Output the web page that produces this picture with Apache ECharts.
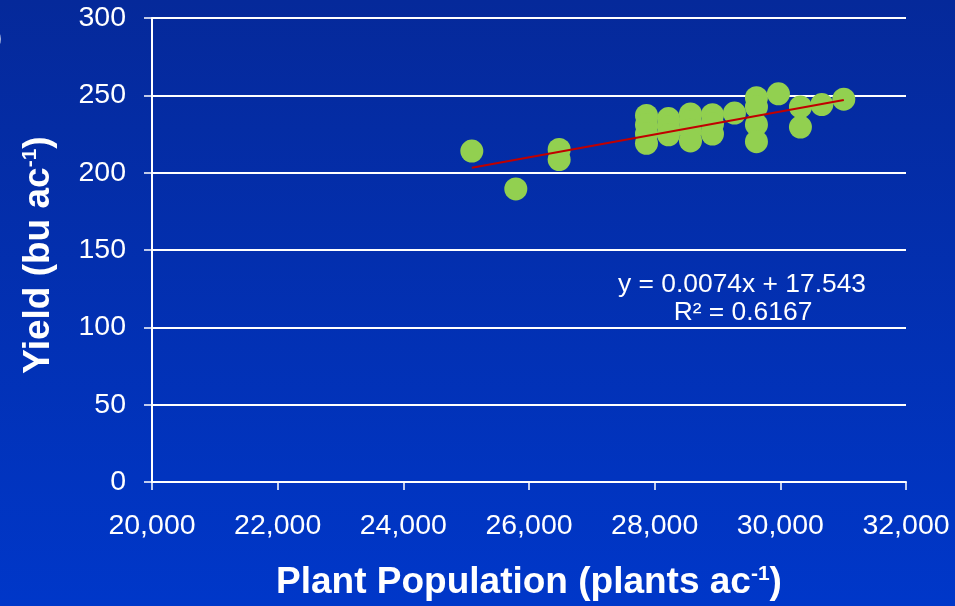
<!DOCTYPE html>
<html>
<head>
<meta charset="utf-8">
<script src="https://cdn.jsdelivr.net/npm/echarts@6/dist/echarts.min.js"></script>
<style>
html,body{margin:0;padding:0;width:955px;height:606px;overflow:hidden;}
#chart{width:955px;height:606px;}
</style>
</head>
<body>
<div id="chart"></div>
<script>
// Data
var popX = [25090, 25790, 26480, 26480,
            27870, 27870, 27870, 27870,
            28220, 28220, 28220,
            28570, 28570, 28570, 28570,
            28920, 28920, 28920,
            29270,
            29620, 29620, 29620, 29620,
            29970,
            30320, 30320,
            30660,
            31010];
var yieldY = [214, 189.5, 215, 208.5,
              237, 231, 225, 219,
              235, 229.5, 224.5,
              238, 233, 227.5, 220.5,
              237.5, 231.5, 225,
              238.5,
              248.5, 242.5, 231, 220,
              251,
              242.5, 229.5,
              244,
              247.5];
var trendX = [25090, 31010];
var trendY = [203.2, 247.0];
var xTicks = [20000, 22000, 24000, 26000, 28000, 30000, 32000];
var yTicks = [0, 50, 100, 150, 200, 250, 300];
var eqLine1 = 'y = 0.0074x + 17.543';
var eqLine2 = 'R\u00b2 = 0.6167';

var pts = popX.map(function (x, i) { return [x, yieldY[i]]; });
var trend = trendX.map(function (x, i) { return [x, trendY[i]]; });

var chart = echarts.init(document.getElementById('chart'), null, {renderer: 'canvas'});
var font = '"Liberation Sans", Arial, sans-serif';
var titleRich = {
  b: {fontFamily: font, fontSize: 37, fontWeight: 'bold', color: '#fff', lineHeight: 37},
  s: {fontFamily: font, fontSize: 21, fontWeight: 'bold', color: '#fff', lineHeight: 37, verticalAlign: 'top', padding: [0, 0, 15, 0]}
};
chart.setOption({
  backgroundColor: {
    type: 'linear', x: 0, y: 0, x2: 0, y2: 1,
    colorStops: [{offset: 0, color: '#05299a'}, {offset: 1, color: '#0037c9'}]
  },
  animation: false,
  grid: {left: 152, right: 49, top: 18, bottom: 120, containLabel: false},
  xAxis: {
    type: 'value', min: xTicks[0], max: xTicks[xTicks.length - 1], interval: 2000,
    name: '{b|Plant Population (plants ac}{s|-1}{b|)}',
    nameLocation: 'middle', nameGap: 82,
    nameTextStyle: {rich: titleRich},
    axisLine: {show: true, lineStyle: {color: '#fff', width: 2}},
    axisTick: {show: true, length: 8, lineStyle: {color: '#fff', width: 1.5}},
    axisLabel: {color: '#fff', fontFamily: font, fontSize: 28.5, margin: 30,
      formatter: function (v) { return v.toLocaleString('en-US'); }},
    splitLine: {show: false}
  },
  yAxis: {
    type: 'value', min: yTicks[0], max: yTicks[yTicks.length - 1], interval: 50,
    name: '{b|Yield (bu ac}{s|-1}{b|)}',
    nameLocation: 'middle', nameGap: 95, nameRotate: 90,
    nameTextStyle: {rich: titleRich, padding: [0, 10, 0, 0]},
    axisLine: {show: true, lineStyle: {color: '#fff', width: 2}},
    axisTick: {show: true, length: 8, lineStyle: {color: '#fff', width: 1.5}},
    axisLabel: {color: '#fff', fontFamily: font, fontSize: 28.5, margin: 26},
    splitLine: {show: true, lineStyle: {color: '#fff', width: 2}}
  },
  series: [
    {
      type: 'scatter', data: pts, symbol: 'circle', symbolSize: 23,
      itemStyle: {color: '#92d050', opacity: 1}, z: 2
    },
    {
      type: 'line', data: trend, symbol: 'none', z: 3,
      lineStyle: {color: '#c00000', width: 2}
    }
  ],
  graphic: [
    {type: 'text', x: 742, y: 271.5, style: {text: eqLine1, fill: '#fff', textAlign: 'center', textVerticalAlign: 'top', font: '26.4px "Liberation Sans", Arial, sans-serif'}},
    {type: 'text', x: 743, y: 300, style: {text: eqLine2, fill: '#fff', textAlign: 'center', textVerticalAlign: 'top', font: '26.4px "Liberation Sans", Arial, sans-serif'}},
    {type: 'text', x: -7, y: 24, style: {text: ')', fill: '#fff', font: '28px "Liberation Sans", Arial, sans-serif'}}
  ]
});
</script>
</body>
</html>
